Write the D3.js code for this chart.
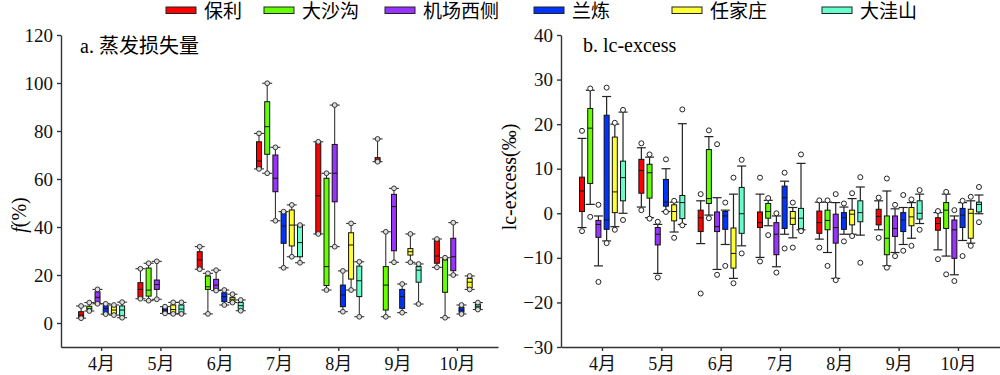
<!DOCTYPE html>
<html>
<head>
<meta charset="utf-8">
<script src="https://cdn.jsdelivr.net/npm/d3@7"></script>
<style>
  body { margin: 0; background: #fff; }
  text { font-family: "Liberation Serif", "Noto Sans CJK SC", serif; }
</style>
</head>
<body>
<div id="chart"></div>
<script>
// categories
var months = ["4月", "5月", "6月", "7月", "8月", "9月", "10月"];
var sites = ["保利", "大沙沟", "机场西侧", "兰炼", "任家庄", "大洼山"];
var colors = ["#ff0000", "#66ff00", "#9933ff", "#0033ff", "#ffff33", "#66ffcc"];

// a. evaporation loss f(%) : [min, q1, median, q3, max] per month
var evapBaoli   = [[2, 2.2, 3.3, 4.7, 7.1], [10.1, 10.7, 14, 16.8, 22.6], [22.4, 22.8, 26.3, 29.7, 31.8], [64.2, 64.4, 67.5, 75.5, 79], [37.1, 37.1, 53, 75.1, 75.5], [67.2, 67.2, 68, 68.9, 76.7], [23.2, 24.9, 27.9, 34.3, 35]];
var evapDashagou = [[5, 5.5, 6, 7, 8.5], [9.3, 11.2, 13.7, 22.9, 24.9], [3.8, 14, 15.1, 19.6, 20.7], [62.4, 70.3, 81.8, 92.2, 99.9], [13.75, 15.6, 23.5, 60.3, 62.4], [2.6, 5.4, 15.8, 23.5, 38], [2.2, 12.8, 26.3, 26.7, 27.2]];
var evapJichang = [[8, 8.2, 10.7, 13, 14], [9.9, 14, 16, 17.9, 25.7], [13.5, 13.5, 15.8, 18.2, 22], [42.6, 54.7, 60.3, 70, 73.2], [31.8, 50.5, 62.4, 74.4, 90.8], [25.3, 30.1, 48.5, 53.6, 56.1], [20, 21.8, 27.6, 35.3, 41.8]];
var evapLanlian = [[3.7, 4, 6, 7.2, 8], [4, 4.1, 5.4, 6.5, 6.8], [7.5, 8.9, 11, 12.6, 13.75], [23, 33.2, 40.4, 46.4, 46.4], [4.7, 6.8, 11.7, 15.8, 21.7], [4.3, 6.1, 11, 14, 16.25], [3.75, 4.5, 5.4, 6.5, 7.5]];
var evapRenjia  = [[3.3, 4, 5.4, 6.8, 7.5], [3.8, 4.1, 5.6, 7.5, 8.6], [8.5, 8.9, 9.9, 10.7, 12], [27.6, 32.1, 40.8, 47.1, 49.2], [13.75, 18.3, 32.5, 37.6, 41.5], [25.3, 28.3, 29.7, 31, 37.1], [14, 14.7, 17, 18.6, 19.6]];
var evapDawa    = [[2.2, 2.9, 5.4, 7.1, 8.7], [3.8, 4.1, 5.8, 7.5, 8.6], [5.1, 5.7, 7.2, 8.6, 9.6], [25.1, 27.6, 33.5, 40.8, 40.8], [2.6, 11, 17.6, 23.7, 25.5], [7.9, 17, 22, 23.5, 24.6], [5.6, 5.6, 7, 7.8, 8.5]];

// b. lc-excess (‰) : [outlierLow, whiskerLow, q1, median, q3, whiskerHigh, outlierHigh]
var lcBaoli   = [[-4, -3.2, 0.4, 5, 8.1, 16.8, 18.5], [0.7, 1.4, 4.5, 9.6, 12.1, 14.7, 15.7], [-18, -6.8, -4.1, -1, 0.7, 2.8, 4.3], [-10.8, -9.9, -3.2, -2.1, 0.3, 4.3, 8], [-7.7, -5.8, -4.5, -2.1, 0.5, 2.5, 2.9], [-5.5, -3.7, -2.6, -0.7, 0.9, 2.8, 3.5], [-10.3, -8.2, -3.8, -2.3, -1, 0.15, 0.5]];
var lcDashagou = [[-0.8, 2, 6.7, 19.1, 23.5, 27.6, 28], [-1.2, -1, 3.4, 9.1, 11, 12.6, 13.2], [-1.1, -0.4, 2.2, 3.3, 14.3, 17.2, 18.6], [-4.9, -2.8, -1.1, 0.4, 2.2, 2.9, 3.4], [-11.8, -8.8, -3.7, -1.6, 0.7, 2.5, 2.9], [-12.2, -11.8, -9.3, -5.6, -0.6, 5, 7.8], [-13.7, -9.6, -3.4, 0.7, 2.4, 4.3, 4.8]];
var lcJichang = [[-15.4, -11.8, -5.4, -2.5, -1.6, -0.6, 1.9], [-14.4, -13.5, -7.1, -4.7, -3.2, -2.5, -1.9], [-13.8, -12.6, -4.1, -3, 0.3, 3.5, 15.5], [-13.3, -12, -9.3, -4.7, -2.1, -0.6, 0], [-15, -14.6, -6.7, -3.2, -0.2, 2.4, 4.3], [-9.6, -8.8, -5.2, -3.4, -0.6, 1, 1.9], [-15.2, -13.8, -10.1, -3.7, -1.5, -0.6, 0.7]];
var lcLanlian = [[-6.7, -6.2, -3.6, -1.5, 22, 26.2, 28.2], [0.3, 0.4, 1.6, 2.5, 7.6, 10, 12.1], [-11.8, -7, -3.6, -0.6, 0.4, 0.7, 2.4], [-7.9, -4.7, -3.4, 3.5, 6.1, 7.2, 9.1], [-6.3, -4.7, -3.6, -1, 0.15, 1.4, 2.2], [-8.4, -7, -4.1, -1.5, 0.15, 1.3, 4.1], [-9.6, -6.1, -3.2, -0.4, 1.1, 2.4, 2.8]];
var lcRenjia  = [[-3.7, -3, 0.15, 4.8, 17.1, 20, 20.3], [-5.5, -4.2, -1.7, 0.4, 1.9, 2.5, 2.8], [-15.7, -14.6, -12.3, -9, -3.3, 4.3, 8], [-7.7, -5.5, -2.5, -1.1, 0.4, 1.3, 2.4], [-5.1, -4.7, -2.6, -0.2, 0.7, 3.3, 4.5], [-7.3, -5.6, -2.8, -0.8, 1.3, 2.4, 3.1], [-7.3, -6.7, -5.6, 0, 0.9, 2.8, 3.7]];
var lcDawa    = [[-1.5, 0, 2.8, 8, 11.7, 22.7, 23.2], [-2.7, -2.5, -1.2, 2.4, 4, 20.1, 23.3], [-9, -7.3, -4.5, -0.1, 5.8, 10.6, 12], [-4, -3.7, -3.4, -1.1, 1.1, 11.2, 13.2], [-11.1, -4.9, -1.9, 0.15, 2.8, 5.9, 8.1], [-3.7, -2.3, -1.3, 0, 2.8, 4.3, 5.2], [-2, -0.1, 0.3, 2, 2.5, 4.1, 5.9]];

var evapTicks = [0, 20, 40, 60, 80, 100, 120];
var lcTicks = [-30, -20, -10, 0, 10, 20, 30, 40];

var evapData = [evapBaoli, evapDashagou, evapJichang, evapLanlian, evapRenjia, evapDawa];
var lcData = [lcBaoli, lcDashagou, lcJichang, lcLanlian, lcRenjia, lcDawa];

var width = 1000, height = 375;
var svg = d3.select("#chart").append("svg")
    .attr("width", width)
    .attr("height", height);
svg.append("rect").attr("width", width).attr("height", height).attr("fill", "#fff");

// scales
var xA = d3.scaleBand().domain(months).range([61, 498]).paddingInner(0).paddingOuter(0.185);
var xB = d3.scaleBand().domain(months).range([561, 1000]).paddingInner(0).paddingOuter(0.2);
var yA = d3.scaleLinear().domain([-10, 120]).range([347, 35]);
var yB = d3.scaleLinear().domain([-30, 40]).range([347, 35]);
var sub = d3.scaleBand().domain(sites).range([-24.6, 24.6]);
var boxW = 5;

function styleAxis(g) {
  g.selectAll("path, line").attr("stroke", "#333").attr("stroke-width", 1.4);
  g.selectAll("text").attr("fill", "#111");
}

function drawAxes(x, y, ticks, xpos) {
  svg.append("g")
    .attr("transform", "translate(0,347)")
    .call(d3.axisBottom(x).tickSize(4).tickPadding(6).tickSizeOuter(0))
    .call(styleAxis)
    .selectAll("text").style("font-size", "18px");
  svg.append("g")
    .attr("transform", "translate(" + xpos + ",0)")
    .call(d3.axisLeft(y).tickValues(ticks).tickSize(4).tickPadding(4).tickSizeOuter(0))
    .call(styleAxis)
    .selectAll("text").style("font-size", "19px");
}

drawAxes(xA, yA, evapTicks, 61);
drawAxes(xB, yB, lcTicks, 561);

// panel a boxes
var gA = svg.append("g");
evapData.forEach(function(series, i) {
  series.forEach(function(s, j) {
    var cx = xA(months[j]) + xA.bandwidth() / 2 + sub(sites[i]) + sub.bandwidth() / 2;
    var g = gA.append("g");
    g.append("line").attr("x1", cx).attr("x2", cx).attr("y1", yA(s[0])).attr("y2", yA(s[4]))
      .attr("stroke", "#222").attr("stroke-width", 1);
    g.append("rect").attr("x", cx - boxW / 2).attr("width", boxW)
      .attr("y", yA(s[3])).attr("height", Math.max(1, yA(s[1]) - yA(s[3])))
      .attr("fill", colors[i]).attr("stroke", "#111").attr("stroke-width", 1);
    g.append("line").attr("x1", cx - boxW / 2).attr("x2", cx + boxW / 2).attr("y1", yA(s[2])).attr("y2", yA(s[2]))
      .attr("stroke", "#111").attr("stroke-width", 1);
    [s[0], s[4]].forEach(function(v) {
      g.append("line").attr("x1", cx - 5).attr("x2", cx + 5).attr("y1", yA(v)).attr("y2", yA(v))
        .attr("stroke", "#222").attr("stroke-width", 1);
      g.append("circle").attr("cx", cx).attr("cy", yA(v)).attr("r", 2.4)
        .attr("fill", "#ddd").attr("stroke", "#222").attr("stroke-width", 0.9);
    });
  });
});

// panel b boxes
var gB = svg.append("g");
lcData.forEach(function(series, i) {
  series.forEach(function(s, j) {
    var cx = xB(months[j]) + xB.bandwidth() / 2 + sub(sites[i]) + sub.bandwidth() / 2;
    var g = gB.append("g");
    g.append("line").attr("x1", cx).attr("x2", cx).attr("y1", yB(s[1])).attr("y2", yB(s[5]))
      .attr("stroke", "#222").attr("stroke-width", 1.2);
    [s[1], s[5]].forEach(function(v) {
      g.append("line").attr("x1", cx - 4.5).attr("x2", cx + 4.5).attr("y1", yB(v)).attr("y2", yB(v))
        .attr("stroke", "#222").attr("stroke-width", 1.2);
    });
    g.append("rect").attr("x", cx - boxW / 2).attr("width", boxW)
      .attr("y", yB(s[4])).attr("height", Math.max(1, yB(s[2]) - yB(s[4])))
      .attr("fill", colors[i]).attr("stroke", "#111").attr("stroke-width", 1);
    g.append("line").attr("x1", cx - boxW / 2).attr("x2", cx + boxW / 2).attr("y1", yB(s[3])).attr("y2", yB(s[3]))
      .attr("stroke", "#111").attr("stroke-width", 1);
    [s[0], s[6]].forEach(function(v) {
      g.append("circle").attr("cx", cx).attr("cy", yB(v)).attr("r", 2.5)
        .attr("fill", "#fff").attr("stroke", "#222").attr("stroke-width", 1);
    });
  });
});

// panel titles
svg.append("text").attr("x", 80).attr("y", 53).style("font-size", "20px").text("a. 蒸发损失量");
svg.append("text").attr("x", 583).attr("y", 52).style("font-size", "20px").text("b. lc-excess");

// y axis labels
var fl = svg.append("text").attr("transform", "translate(26,215) rotate(-90)")
  .attr("text-anchor", "middle").style("font-size", "20px");
fl.append("tspan").style("font-style", "italic").text("f");
fl.append("tspan").text("(%)");
svg.append("text").attr("transform", "translate(516,177) rotate(-90)")
  .attr("text-anchor", "middle").style("font-size", "20px").text("lc-excess(‰)");

// legend
var legendX = [166, 264, 385, 534, 672, 822];
sites.forEach(function(name, i) {
  svg.append("rect").attr("x", legendX[i]).attr("y", 7).attr("width", 30).attr("height", 6.5)
    .attr("fill", colors[i]).attr("stroke", "#222").attr("stroke-width", 1);
  svg.append("text").attr("x", legendX[i] + 38).attr("y", 18).style("font-size", "19px").text(name);
});
</script>
</body>
</html>
